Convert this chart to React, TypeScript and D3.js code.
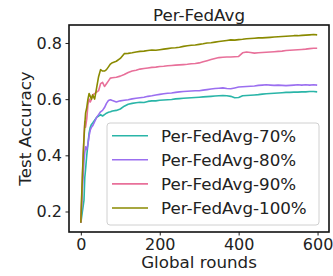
import React, { useEffect, useRef } from 'react'
import * as d3 from 'd3'

const rounds = [0, 2, 4, 6, 8, 10, 12, 15, 18, 21, 24, 27, 30, 35, 40, 45, 50, 55, 60, 65, 70, 75, 80,
  90, 100, 110, 120, 130, 140, 150, 160, 170, 180, 190, 200, 210, 220, 230, 240, 250, 260, 270, 280, 290,
  300, 310, 320, 330, 340, 350, 360, 370, 380, 390, 400, 410, 420, 430, 440, 450, 460, 470, 480, 490,
  500, 510, 520, 530, 540, 550, 560, 570, 580, 590, 599]

const acc70 = [0.16, 0.18, 0.2, 0.22, 0.24, 0.32, 0.35, 0.4, 0.44, 0.48, 0.5, 0.51, 0.515, 0.525, 0.535, 0.54, 0.545, 0.54, 0.545, 0.55, 0.553, 0.555, 0.558,
  0.56, 0.565, 0.575, 0.582, 0.585, 0.587, 0.589, 0.588, 0.592, 0.594, 0.594, 0.596, 0.597, 0.598, 0.599, 0.601, 0.602, 0.603, 0.604, 0.605, 0.606,
  0.607, 0.608, 0.609, 0.61, 0.611, 0.612, 0.613, 0.612, 0.61, 0.605, 0.606, 0.612, 0.613, 0.614, 0.615, 0.616, 0.618, 0.619, 0.62, 0.621,
  0.622, 0.623, 0.624, 0.624, 0.625, 0.625, 0.626, 0.626, 0.627, 0.627, 0.626]

const acc80 = [0.16, 0.22, 0.28, 0.33, 0.38, 0.41, 0.43, 0.42, 0.44, 0.47, 0.49, 0.5, 0.505, 0.52, 0.535, 0.545, 0.555, 0.56, 0.57, 0.585, 0.595, 0.598, 0.595,
  0.59, 0.594, 0.596, 0.598, 0.601, 0.603, 0.605, 0.607, 0.61, 0.612, 0.615, 0.617, 0.619, 0.621, 0.622, 0.624, 0.626, 0.627, 0.628, 0.629, 0.63,
  0.63, 0.632, 0.634, 0.636, 0.638, 0.639, 0.64, 0.638, 0.637, 0.64, 0.643, 0.644, 0.645, 0.646, 0.647, 0.649, 0.65, 0.651, 0.65, 0.649,
  0.65, 0.649, 0.648, 0.649, 0.65, 0.651, 0.65, 0.651, 0.65, 0.651, 0.65]

const acc90 = [0.16, 0.24, 0.32, 0.4, 0.47, 0.52, 0.5, 0.53, 0.58, 0.6, 0.59, 0.6, 0.615, 0.62, 0.625, 0.63, 0.655, 0.66, 0.645, 0.655, 0.665, 0.675, 0.676,
  0.678, 0.682, 0.688, 0.695, 0.7, 0.703, 0.707, 0.709, 0.711, 0.713, 0.714, 0.716, 0.717, 0.719, 0.72, 0.721, 0.722, 0.723, 0.724, 0.726, 0.727,
  0.729, 0.733, 0.737, 0.741, 0.745, 0.748, 0.749, 0.75, 0.75, 0.751, 0.752, 0.765, 0.768, 0.766, 0.764, 0.765, 0.766, 0.767, 0.768, 0.769,
  0.77, 0.771, 0.773, 0.774, 0.775, 0.776, 0.777, 0.778, 0.78, 0.781, 0.781]

const acc100 = [0.16, 0.25, 0.33, 0.4, 0.46, 0.51, 0.55, 0.57, 0.6, 0.62, 0.61, 0.6, 0.615, 0.6, 0.64, 0.68, 0.705, 0.7, 0.7, 0.705, 0.715, 0.725, 0.73,
  0.735, 0.745, 0.762, 0.763, 0.765, 0.768, 0.77, 0.771, 0.773, 0.775, 0.774, 0.776, 0.778, 0.78, 0.782, 0.783, 0.785, 0.788, 0.79, 0.792, 0.793,
  0.795, 0.797, 0.8, 0.801, 0.803, 0.805, 0.807, 0.809, 0.811, 0.81, 0.812, 0.813, 0.815, 0.816, 0.817, 0.818, 0.818, 0.819, 0.82, 0.821,
  0.822, 0.823, 0.824, 0.825, 0.826, 0.826, 0.827, 0.828, 0.829, 0.83, 0.829]

const seriesNames = ['Per-FedAvg-70%', 'Per-FedAvg-80%', 'Per-FedAvg-90%', 'Per-FedAvg-100%']
const seriesValues = [acc70, acc80, acc90, acc100]
const colors = ['#2ab5a8', '#9b6ff0', '#e8709a', '#8a8a00']
const xTicks = [0, 200, 400, 600]
const yTicks = [0.2, 0.4, 0.6, 0.8]

const FONT = 'DejaVu Sans, sans-serif'

const App = () => {
  const ref = useRef<SVGSVGElement>(null)

  useEffect(() => {
    const svg = d3.select(ref.current)
    svg.selectAll('*').remove()

    const left = 69, right = 329, top = 25, bottom = 232

    const x = d3.scaleLinear().domain([-30, 629]).range([left, right])
    const y = d3.scaleLinear().domain([0.127, 0.864]).range([bottom, top])

    // curves
    const line = d3.line<number>()
      .x((d, i) => x(rounds[i]))
      .y((d) => y(d))

    seriesValues.forEach((vals, k) => {
      svg.append('path')
        .attr('d', line(vals))
        .attr('fill', 'none')
        .attr('stroke', colors[k])
        .attr('stroke-width', 1.6)
        .attr('stroke-linejoin', 'round')
    })

    // axes
    const gx = svg.append('g').attr('transform', `translate(0,${bottom})`)
      .call(d3.axisBottom(x).tickValues(xTicks).tickSize(3.5).tickPadding(3.5).tickFormat(d3.format('d')))
    const gy = svg.append('g').attr('transform', `translate(${left},0)`)
      .call(d3.axisLeft(y).tickValues(yTicks).tickSize(3.5).tickPadding(3.5).tickFormat(d3.format('.1f')))
    ;[gx, gy].forEach((g) => {
      g.select('.domain').remove()
      g.selectAll('text').attr('font-family', FONT).attr('font-size', 16).attr('fill', '#222')
      g.selectAll('line').attr('stroke', '#222')
    })

    // frame
    svg.append('rect')
      .attr('x', left).attr('y', top)
      .attr('width', right - left).attr('height', bottom - top)
      .attr('fill', 'none').attr('stroke', '#111').attr('stroke-width', 1.6)

    // legend
    const lg = svg.append('g')
    lg.append('rect')
      .attr('x', 107).attr('y', 123).attr('width', 212).attr('height', 102)
      .attr('rx', 3).attr('fill', 'white').attr('fill-opacity', 0.8)
      .attr('stroke', '#d0d0d0')
    seriesNames.forEach((name, k) => {
      const cy = 135.7 + k * 24.1
      lg.append('line')
        .attr('x1', 112).attr('x2', 148).attr('y1', cy).attr('y2', cy)
        .attr('stroke', colors[k]).attr('stroke-width', 1.6)
      lg.append('text')
        .attr('x', 161).attr('y', cy + 6)
        .attr('font-family', FONT).attr('font-size', 16.7).attr('fill', '#222')
        .text(name)
    })

    // titles
    svg.append('text')
      .attr('x', (left + right) / 2).attr('y', 20.5)
      .attr('text-anchor', 'middle')
      .attr('font-family', FONT).attr('font-size', 16.7).attr('fill', '#222')
      .text('Per-FedAvg')
    svg.append('text')
      .attr('x', (left + right) / 2).attr('y', 268)
      .attr('text-anchor', 'middle')
      .attr('font-family', FONT).attr('font-size', 16.7).attr('fill', '#222')
      .text('Global rounds')
    svg.append('text')
      .attr('transform', `translate(31,${(top + bottom) / 2}) rotate(-90)`)
      .attr('text-anchor', 'middle')
      .attr('font-family', FONT).attr('font-size', 16.7).attr('fill', '#222')
      .text('Test Accuracy')
  }, [])

  return (
    <div style={{ position: 'absolute', left: 0, top: 0 }}>
      <svg ref={ref} width={333} height={276} style={{ display: 'block', background: 'white' }}></svg>
    </div>
  )
}

export default App
